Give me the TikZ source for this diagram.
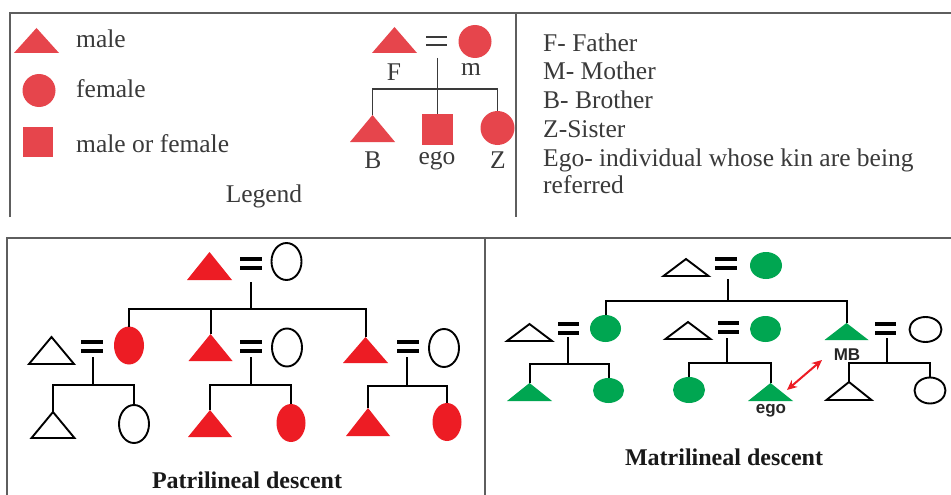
\documentclass[tikz,border=0pt]{standalone}
\usepackage{fontspec}
\setmainfont{Liberation Serif}
\newfontfamily\sansf{Liberation Sans}
\usetikzlibrary{shapes.geometric,arrows.meta}
\definecolor{lred}{HTML}{E6454C}
\definecolor{pred}{HTML}{ED1C24}
\definecolor{mgreen}{HTML}{00A651}
\definecolor{ltxt}{HTML}{3A3A3A}
\definecolor{bline}{HTML}{5E5E5E}
\tikzset{
  pics/tri/.style 2 args={code={\path[pic actions] (0,0) -- (#1,#2) -- (-#1,#2) -- cycle; \coordinate (-top) at (0,0);}},
  pics/eqs/.style n args={3}{code={\fill[pic actions] (-#1,-#2-#3) rectangle (#1,-#2+#3); \fill[pic actions] (-#1,#2-#3) rectangle (#1,#2+#3);}},
  boxl/.style={line width=1.3pt, draw=bline},
  lgl/.style={line width=1.2pt, draw=ltxt},
  ln/.style={line width=2pt, draw=black},
  lt/.style={font=\fontsize{25.5}{30}\selectfont, text=ltxt, inner sep=0pt},
  ttl/.style={font=\bfseries\fontsize{24}{28}\selectfont, text=black!90, inner sep=0pt, anchor=base},
  sl/.style={font=\sansf\bfseries\fontsize{17}{20}\selectfont, text=black!85, inner sep=0pt, anchor=base},
  lcirc/.style={circle, fill=lred, inner sep=0pt, minimum size=33pt},
  lsq/.style={rectangle, fill=lred, inner sep=0pt, minimum size=30pt},
  pell/.style={ellipse, inner sep=0pt, outer sep=0pt, minimum width=30pt, minimum height=38pt},
  mell/.style={ellipse, inner sep=0pt, outer sep=0pt, minimum width=31pt, minimum height=26pt},
  opn/.style={draw=black, line width=1.9pt, fill=white},
  pfill/.style={fill=pred},
  gfill/.style={fill=mgreen},
  otri/.style={draw=black, line width=1.9pt, fill=white},
}
\begin{document}
\begin{tikzpicture}[x=1pt,y=-1pt]
\useasboundingbox (0,0) rectangle (951,495);
\fill[white] (0,0) rectangle (951,495);
% boxes
\draw[boxl] (10,217) -- (10,13) -- (951,13);
\draw[boxl] (516,13) -- (516,217);
\draw[boxl] (7,495) -- (7,238) -- (951,238);
\draw[boxl] (485,238) -- (485,495);

% ---------- legend ----------
\pic[fill=lred] (lt0) at (36.5,28) {tri={22.5}{25}};
\node[lcirc] (lc0) at (39,90.5) {};
\node[lsq] (ls0) at (38,142) {};
\node[lt, anchor=base west] (tmale) at (76,48) {male};
\node[lt, anchor=base west] (tfemale) at (76,97) {female};
\node[lt, anchor=base west] (tmof) at (76,152) {male or female};
\node[lt, anchor=base] (tlegend) at (264,202) {Legend};

\pic[fill=lred] (lF) at (394.5,27) {tri={22.5}{26}};
\pic[fill=ltxt] at (436.5,41) {eqs={10.5}{4}{1.3}};
\node[lcirc] (lm) at (475,41.5) {};
\pic[fill=lred] (lB) at (372.5,115) {tri={22.5}{27}};
\node[lsq, minimum size=31pt] (lego) at (437.5,129.5) {};
\node[lcirc, minimum size=34pt] (lZ) at (497.5,128) {};
\coordinate (la) at (437.5,58);
\coordinate (lj) at (437.5,89);
\draw[lgl] (la) -- (lego.north);
\draw[lgl] (lB-top) |- (lj) -| (lZ.north);
\node[lt, anchor=base] (tF) at (394,81) {F};
\node[lt, anchor=base] (tm) at (471,76) {m};
\node[lt, anchor=base] (tB) at (373,168) {B};
\node[lt, anchor=base] (tego) at (437,164) {ego};
\node[lt, anchor=base] (tZ) at (498,168) {Z};

\node[lt, anchor=base west] (k1) at (543,52) {F- Father};
\node[lt, anchor=base west] (k2) at (543,80) {M- Mother};
\node[lt, anchor=base west] (k3) at (543,108) {B- Brother};
\node[lt, anchor=base west] (k4) at (543,137) {Z-Sister};
\node[lt, anchor=base west] (k5) at (543,166) {Ego- individual whose kin are being};
\node[lt, anchor=base west] (k6) at (543,193) {referred};

% ---------- patrilineal ----------
\pic[pfill] (pt0) at (209.5,252) {tri={22.5}{28}};
\pic[fill=black] at (250.5,263) {eqs={11}{4.5}{2}};
\node[pell, opn, minimum height=37pt] (pe0) at (286.5,261.5) {};
\coordinate (pa0) at (250.5,282);
\coordinate (pj0) at (250.5,309);

\pic[otri] (pt1) at (51.5,337) {tri={22.5}{27}};
\pic[fill=black] at (92,346) {eqs={11}{4.5}{2}};
\node[pell, pfill] (pe1) at (129,345.5) {};
\pic[pfill] (pt2) at (210.5,334) {tri={22}{27}};
\pic[fill=black] at (250.5,346) {eqs={11}{4.5}{2}};
\node[pell, opn] (pe2) at (287,347.5) {};
\pic[pfill] (pt3) at (365.5,337) {tri={22.5}{26}};
\pic[fill=black] at (407.5,346) {eqs={11}{4.5}{2}};
\node[pell, opn] (pe3) at (444,348) {};

\draw[ln] (pa0) -- (pj0);
\draw[ln] (pe1.north) |- (pj0) -| (pt3-top);
\draw[ln] (pt2-top) -- (pt2-top |- pj0);

\coordinate (pa1) at (93,357);  \coordinate (pj1) at (93,385);
\coordinate (pa2) at (251,357); \coordinate (pj2) at (251,384.5);
\coordinate (pa3) at (407,357); \coordinate (pj3) at (407,386);

\pic[otri] (pt4) at (53,412) {tri={21.5}{26}};
\node[pell, opn] (pe4) at (134,424) {};
\pic[pfill] (pt5) at (210,410) {tri={22}{27}};
\node[pell, pfill, minimum width=29pt] (pe5) at (291,423) {};
\pic[pfill] (pt6) at (368,408) {tri={22}{28}};
\node[pell, pfill, minimum width=29pt] (pe6) at (447,422) {};

\draw[ln] (pa1) -- (pj1);
\draw[ln] (pt4-top) |- (pj1) -| (pe4.north);
\draw[ln] (pa2) -- (pj2);
\draw[ln] (pt5-top) |- (pj2) -| (pe5.north);
\draw[ln] (pa3) -- (pj3);
\draw[ln] (pt6-top) |- (pj3) -| (pe6.north);

\node[ttl] (ptitle) at (247,488) {Patrilineal descent};

% ---------- matrilineal ----------
\pic[otri] (mt0) at (686,259) {tri={22.5}{17}};
\pic[fill=black] at (726,263) {eqs={11}{4.5}{2}};
\node[mell, gfill, minimum width=32pt, minimum height=27pt] (me0) at (766,265.5) {};
\coordinate (ma0) at (728,279);
\coordinate (mj0) at (728,301);

\pic[otri] (mt1) at (529.5,324) {tri={22.5}{17}};
\pic[fill=black] at (568.5,328) {eqs={10.5}{4.5}{2}};
\node[mell, gfill, minimum height=27pt] (me1) at (605.5,328.5) {};
\pic[otri] (mt2) at (688,322) {tri={22.5}{17}};
\pic[fill=black] at (728.5,327.5) {eqs={10.5}{4.5}{2}};
\node[mell, gfill] (me2) at (765.5,329) {};
\pic[gfill] (mt3) at (846.5,323) {tri={22}{17}};
\pic[fill=black] at (885.5,328) {eqs={10.5}{4.5}{2}};
\node[mell, opn, minimum width=32pt, minimum height=25pt] (me3) at (925.5,329.5) {};

\draw[ln] (ma0) -- (mj0);
\draw[ln] (me1.north) |- (mj0) -| (mt3-top);

\coordinate (ma1) at (568,337); \coordinate (mj1) at (568,364);
\coordinate (ma2) at (727,338); \coordinate (mj2) at (727,363);
\coordinate (ma3) at (887,338); \coordinate (mj3) at (887,363);

\pic[gfill] (mt4) at (529.5,383) {tri={22.5}{18}};
\node[mell, gfill, minimum height=25pt] (me4) at (608.5,390.5) {};
\node[mell, gfill, minimum width=32pt] (me5) at (689,390) {};
\pic[gfill] (mt5) at (770.5,383) {tri={22.5}{18}};
\pic[otri] (mt6) at (849,382) {tri={22.5}{18}};
\node[mell, opn, minimum width=31pt, minimum height=26pt] (me6) at (930,390.5) {};

\draw[ln] (ma1) -- (mj1);
\draw[ln] (mt4-top) |- (mj1) -| (me4.north);
\draw[ln] (ma2) -- (mj2);
\draw[ln] (me5.north) |- (mj2) -| (mt5-top);
\draw[ln] (ma3) -- (mj3);
\draw[ln] (mt6-top) |- (mj3) -| (me6.north);

\node[sl] (mb) at (847,360) {MB};
\node[sl] (megolbl) at (771,413) {ego};
\coordinate (ar1) at (787,390);
\coordinate (ar2) at (822,360);
\draw[line width=2pt, draw=pred, {Stealth[length=10pt,width=9pt]}-{Stealth[length=10pt,width=9pt]}] (ar1) -- (ar2);

\node[ttl] (mtitle) at (724,465) {Matrilineal descent};
\end{tikzpicture}
\end{document}
